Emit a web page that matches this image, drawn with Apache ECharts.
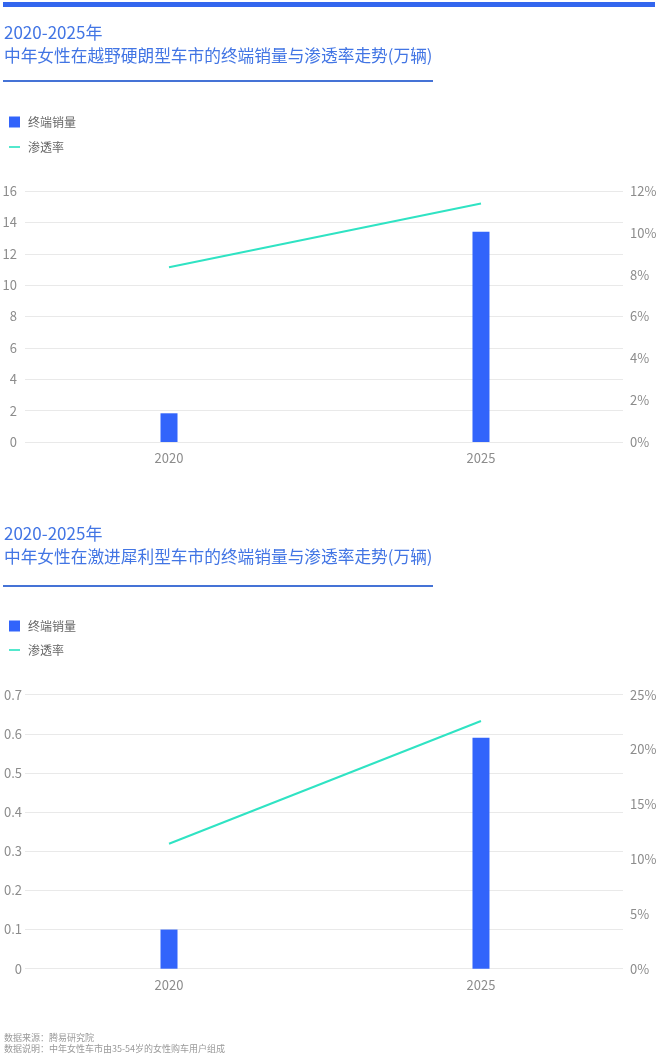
<!DOCTYPE html>
<html><head><meta charset="utf-8">
<script src="https://cdn.jsdelivr.net/npm/echarts@6/dist/echarts.min.js"></script>
<style>html,body{margin:0;padding:0;background:#fff}#c{width:660px;height:1054px}</style>
</head><body><div id="c"></div>
<script>
var years = [2020, 2025];
var salesOffroad = [1.83, 13.4];
var rateOffroad = [8.35, 11.4];
var salesSport = [0.1, 0.59];
var rateSport = [11.4, 22.6];
var title1a = '2020-2025年';
var title1b = '中年女性在越野硬朗型车市的终端销量与渗透率走势(万辆)';
var title2a = '2020-2025年';
var title2b = '中年女性在激进犀利型车市的终端销量与渗透率走势(万辆)';
var seriesNames = ['终端销量', '渗透率'];
var footer1 = '数据来源：腾易研究院';
var footer2 = '数据说明：中年女性车市由35-54岁的女性购车用户组成';

var FONT = '"Noto Sans CJK SC", "Noto Sans", sans-serif';
var BAR = '#3264fb';
var LINE = '#2fe3c3';
var TITLE = '#4275e4';
var LABEL = '#8c8c8c';
var LINE_ICON = 'path://M0,0 M0,8.5 L20,8.5 L20,11.5 L0,11.5 Z M20,20';

function pairs(xs, ys) { return xs.map(function (x, i) { return [x, ys[i]]; }); }

function xAxis(gi) {
  return {
    type: 'value', gridIndex: gi, min: 2017.692, max: 2027.276,
    axisLine: {show: false}, axisTick: {show: false}, splitLine: {show: false},
    axisLabel: {customValues: years, color: LABEL, fontSize: 13, fontFamily: FONT, margin: 10, formatter: function (v) { return String(v); }}
  };
}
function yLeft(gi, max, interval, fmt, margin) {
  return {
    type: 'value', gridIndex: gi, min: 0, max: max, interval: interval, position: 'left',
    axisLine: {show: false}, axisTick: {show: false},
    splitLine: {lineStyle: {color: '#e9e9e9', width: 1}},
    axisLabel: {color: LABEL, fontSize: 13, fontFamily: FONT, margin: margin, formatter: fmt}
  };
}
function yRight(gi, max, interval) {
  return {
    type: 'value', gridIndex: gi, min: 0, max: max, interval: interval, position: 'right',
    axisLine: {show: false}, axisTick: {show: false}, splitLine: {show: false},
    axisLabel: {color: LABEL, fontSize: 13, fontFamily: FONT, margin: 7, formatter: '{value}%'}
  };
}

function legendAt(top, gap) {
  return {
    orient: 'vertical', left: 4, top: top, itemWidth: 11, itemHeight: 11, itemGap: gap,
    textStyle: {color: '#666', fontSize: 12, fontFamily: FONT, padding: [0, 0, 0, 3]},
    data: [{name: seriesNames[0], icon: 'rect'}, {name: seriesNames[1], icon: LINE_ICON}],
    selectedMode: false
  };
}

var option = {
  animation: false,
  backgroundColor: '#fff',
  graphic: [
    {type: 'rect', shape: {x: 3, y: 2, width: 652, height: 5}, style: {fill: '#3366ee'}},
    {type: 'text', x: 4, y: 33, style: {text: title1a, fill: TITLE, font: '17px ' + FONT, textVerticalAlign: 'middle'}},
    {type: 'text', x: 4, y: 56, style: {text: title1b, fill: TITLE, font: '16.7px ' + FONT, textVerticalAlign: 'middle'}},
    {type: 'rect', shape: {x: 3, y: 80, width: 430, height: 2}, style: {fill: '#4573d6'}},
    {type: 'text', x: 4, y: 534, style: {text: title2a, fill: TITLE, font: '17px ' + FONT, textVerticalAlign: 'middle'}},
    {type: 'text', x: 4, y: 557, style: {text: title2b, fill: TITLE, font: '16.7px ' + FONT, textVerticalAlign: 'middle'}},
    {type: 'rect', shape: {x: 3, y: 585, width: 430, height: 2}, style: {fill: '#4573d6'}},
    {type: 'text', x: 4, y: 1038, style: {text: footer1, fill: '#9a9a9a', font: '9px ' + FONT, textVerticalAlign: 'middle'}},
    {type: 'text', x: 4, y: 1049, style: {text: footer2, fill: '#9a9a9a', font: '9px ' + FONT, textVerticalAlign: 'middle'}}
  ],
  legend: [legendAt(111, 13), legendAt(615, 12)],
  grid: [
    {left: 25, right: 37, top: 191, height: 251, outerBoundsMode: 'none', containLabel: false},
    {left: 25, right: 37, top: 694.7, height: 274, outerBoundsMode: 'none', containLabel: false}
  ],
  xAxis: [xAxis(0), xAxis(1)],
  yAxis: [
    yLeft(0, 16, 2, '{value}', 8), yRight(0, 12, 2),
    yLeft(1, 0.7, 0.1, function (v) { return v === 0 ? '0' : v.toFixed(1); }, 3), yRight(1, 25, 5)
  ],
  series: [
    {name: seriesNames[0], type: 'bar', xAxisIndex: 0, yAxisIndex: 0, barWidth: 17, itemStyle: {color: BAR}, data: pairs(years, salesOffroad)},
    {name: seriesNames[1], type: 'line', xAxisIndex: 0, yAxisIndex: 1, symbol: 'none', lineStyle: {color: LINE, width: 2}, itemStyle: {color: LINE}, data: pairs(years, rateOffroad)},
    {name: seriesNames[0], type: 'bar', xAxisIndex: 1, yAxisIndex: 2, barWidth: 17, itemStyle: {color: BAR}, data: pairs(years, salesSport)},
    {name: seriesNames[1], type: 'line', xAxisIndex: 1, yAxisIndex: 3, symbol: 'none', lineStyle: {color: LINE, width: 2}, itemStyle: {color: LINE}, data: pairs(years, rateSport)}
  ]
};
var chart = echarts.init(document.getElementById('c'), null, {renderer: 'canvas'});
chart.setOption(option);
</script>
</body></html>
